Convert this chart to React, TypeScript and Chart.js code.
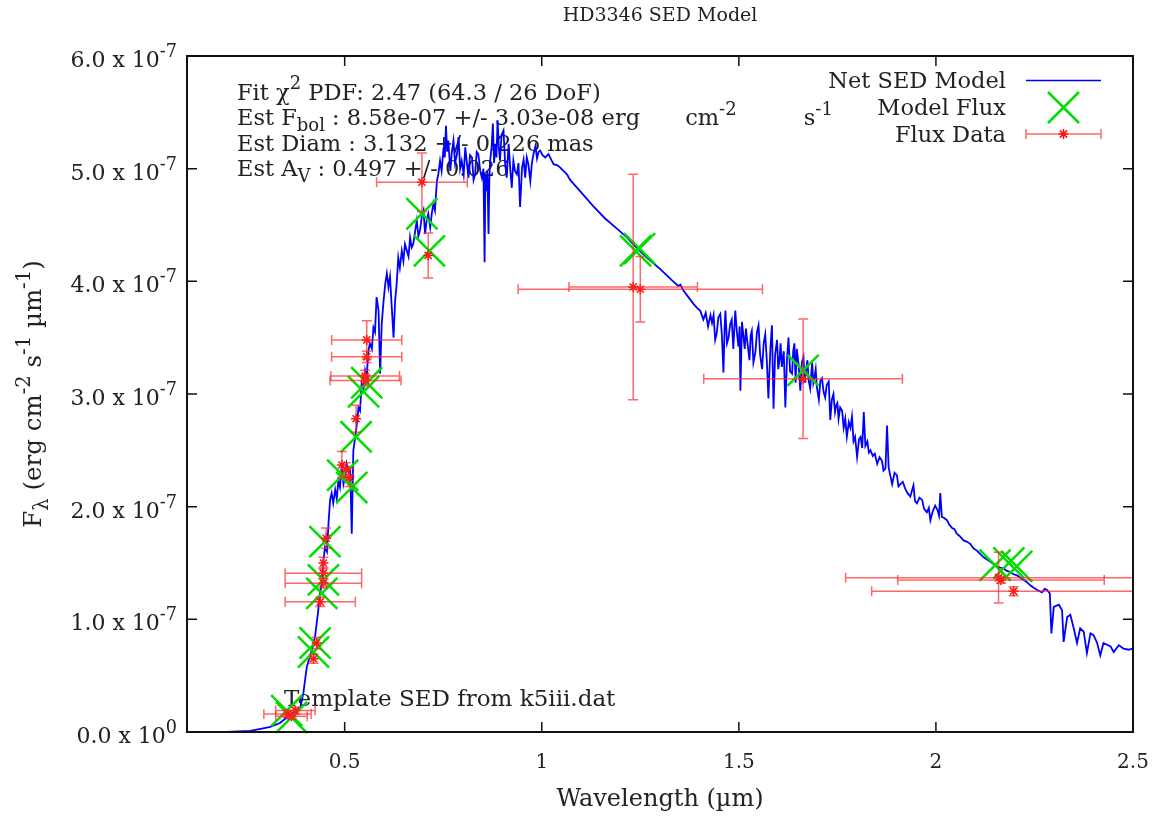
import React, { useEffect, useRef } from 'react';
import { Chart, registerables } from 'chart.js';

Chart.register(...registerables);

// ---- axis ranges & ticks (flux in units of 1e-7 erg cm^-2 s^-1 um^-1) ----
const xMin = 0.1;
const xMax = 2.5;
const yMin = 0;
const yMax = 6;
const xTickValues = [0.5, 1, 1.5, 2, 2.5];
const xTickLabels = ['0.5', '1', '1.5', '2', '2.5'];
const yTickValues = [0, 1, 2, 3, 4, 5, 6];
const yTickMantissa = ['0.0', '1.0', '2.0', '3.0', '4.0', '5.0', '6.0'];
const yTickExponent = ['0', '-7', '-7', '-7', '-7', '-7', '-7'];

// ---- Net SED model spectrum: [wavelength um, flux 1e-7] ----
const sedModel: [number, number][] = [
  [0.10, 0.00], [0.20, 0.00], [0.26, 0.01], [0.29, 0.03], [0.311, 0.045], [0.336, 0.08], [0.361, 0.15],
  [0.387, 0.21], [0.395, 0.34], [0.404, 0.58], [0.412, 0.67], [0.418, 0.74], [0.425, 0.85], [0.433, 1.08],
  [0.436, 1.20], [0.442, 1.32], [0.446, 1.52], [0.450, 1.64], [0.455, 1.60], [0.459, 1.85], [0.463, 2.06],
  [0.467, 2.12], [0.471, 2.03], [0.476, 2.15], [0.480, 2.07], [0.484, 2.23], [0.488, 2.17], [0.493, 2.38],
  [0.497, 2.20], [0.501, 2.26], [0.505, 2.38], [0.510, 2.30], [0.514, 2.32], [0.518, 1.76], [0.522, 2.50],
  [0.527, 2.62], [0.531, 2.74], [0.535, 2.88], [0.539, 2.85], [0.543, 3.09], [0.548, 3.05], [0.552, 3.21],
  [0.556, 3.15], [0.560, 3.38], [0.564, 3.45], [0.569, 3.40], [0.573, 3.59], [0.577, 3.55], [0.581, 3.86],
  [0.586, 3.74], [0.590, 3.18], [0.594, 3.62], [0.598, 3.80], [0.603, 3.98], [0.607, 4.07], [0.611, 3.95],
  [0.615, 4.04], [0.620, 3.74], [0.624, 3.50], [0.628, 3.83], [0.632, 3.98], [0.636, 4.21], [0.640, 4.12],
  [0.645, 4.27], [0.649, 4.18], [0.653, 4.33], [0.658, 4.27], [0.662, 4.22], [0.666, 4.39], [0.670, 4.30],
  [0.674, 4.33], [0.679, 4.45], [0.683, 4.54], [0.687, 4.40], [0.691, 4.45], [0.696, 4.58], [0.700, 4.63],
  [0.704, 4.42], [0.708, 4.54], [0.712, 4.60], [0.717, 4.48], [0.721, 4.60], [0.725, 4.69], [0.729, 4.63],
  [0.734, 4.89], [0.738, 4.96], [0.742, 5.07], [0.746, 4.98], [0.751, 5.19], [0.754, 5.10], [0.757, 5.38],
  [0.760, 5.15], [0.763, 5.25], [0.768, 4.98], [0.772, 5.15], [0.776, 5.25], [0.780, 5.05], [0.785, 5.13],
  [0.789, 5.28], [0.793, 5.00], [0.797, 5.07], [0.802, 4.95], [0.806, 5.19], [0.810, 5.05], [0.814, 4.92],
  [0.818, 5.12], [0.823, 5.10], [0.827, 4.90], [0.831, 4.95], [0.835, 5.15], [0.839, 5.13], [0.844, 4.98],
  [0.848, 4.92], [0.852, 5.00], [0.855, 4.17], [0.857, 4.95], [0.859, 4.80], [0.862, 4.98], [0.865, 4.42],
  [0.867, 4.90], [0.869, 5.07], [0.873, 5.20], [0.876, 5.40], [0.879, 5.05], [0.882, 5.22], [0.885, 5.10],
  [0.888, 5.43], [0.891, 5.20], [0.894, 5.07], [0.898, 5.30], [0.903, 5.34], [0.907, 5.05], [0.911, 4.92],
  [0.916, 5.22], [0.920, 5.00], [0.924, 4.83], [0.928, 5.07], [0.932, 4.98], [0.937, 4.95], [0.941, 5.05],
  [0.945, 4.66], [0.950, 5.01], [0.954, 5.08], [0.958, 4.92], [0.962, 5.10], [0.966, 5.04], [0.971, 4.89],
  [0.975, 5.05], [0.979, 5.13], [0.984, 5.20], [0.988, 5.09], [0.992, 5.15], [0.996, 5.16], [1.002, 5.12],
  [1.009, 5.10], [1.017, 5.13], [1.024, 5.08], [1.030, 5.04], [1.040, 5.03], [1.047, 5.01], [1.055, 4.98],
  [1.064, 4.95], [1.072, 4.90], [1.100, 4.79], [1.130, 4.67], [1.160, 4.56], [1.190, 4.47], [1.216, 4.39],
  [1.240, 4.30], [1.270, 4.20], [1.300, 4.11], [1.330, 4.01], [1.346, 3.96], [1.352, 3.97], [1.359, 3.92],
  [1.372, 3.86], [1.385, 3.80], [1.395, 3.76], [1.402, 3.74], [1.410, 3.66], [1.416, 3.72], [1.422, 3.60],
  [1.428, 3.70], [1.432, 3.63], [1.436, 3.70], [1.440, 3.48], [1.444, 3.54], [1.448, 3.68], [1.453, 3.71],
  [1.457, 3.52], [1.461, 3.19], [1.464, 3.60], [1.466, 3.74], [1.470, 3.45], [1.474, 3.50], [1.478, 3.62],
  [1.482, 3.66], [1.486, 3.40], [1.491, 3.74], [1.495, 3.55], [1.499, 3.42], [1.502, 3.60], [1.504, 3.03],
  [1.508, 3.64], [1.512, 3.50], [1.515, 3.40], [1.518, 3.58], [1.521, 3.48], [1.527, 3.30], [1.530, 3.52],
  [1.533, 3.56], [1.537, 3.28], [1.542, 3.37], [1.546, 3.55], [1.550, 3.61], [1.554, 3.35], [1.559, 3.22],
  [1.563, 3.45], [1.567, 3.53], [1.571, 3.30], [1.575, 2.96], [1.580, 3.40], [1.584, 3.61], [1.588, 2.87],
  [1.592, 3.35], [1.597, 3.48], [1.600, 3.22], [1.603, 3.30], [1.606, 3.45], [1.609, 3.24], [1.614, 3.38],
  [1.618, 2.88], [1.622, 3.30], [1.626, 3.50], [1.630, 3.20], [1.635, 3.18], [1.638, 3.38], [1.641, 3.45],
  [1.644, 3.10], [1.647, 3.40], [1.652, 3.25], [1.656, 3.03], [1.660, 3.28], [1.664, 3.33], [1.667, 3.10],
  [1.670, 3.20], [1.674, 3.30], [1.677, 3.12], [1.681, 3.05], [1.686, 3.28], [1.689, 3.10], [1.692, 3.15],
  [1.695, 3.22], [1.698, 3.06], [1.703, 2.95], [1.707, 3.12], [1.711, 3.14], [1.715, 3.02], [1.719, 2.97],
  [1.723, 3.08], [1.728, 3.11], [1.732, 2.77], [1.736, 2.95], [1.740, 3.00], [1.744, 2.84], [1.747, 2.90],
  [1.750, 2.92], [1.753, 2.78], [1.757, 2.88], [1.762, 2.85], [1.766, 2.70], [1.770, 2.78], [1.774, 2.62],
  [1.779, 2.75], [1.783, 2.70], [1.787, 2.80], [1.791, 2.58], [1.795, 2.62], [1.800, 2.44], [1.805, 2.60],
  [1.809, 2.62], [1.813, 2.52], [1.817, 2.84], [1.821, 2.54], [1.826, 2.58], [1.830, 2.48], [1.834, 2.50],
  [1.840, 2.45], [1.845, 2.47], [1.851, 2.38], [1.857, 2.44], [1.863, 2.41], [1.867, 2.32], [1.872, 2.34],
  [1.876, 2.72], [1.880, 2.35], [1.884, 2.28], [1.889, 2.20], [1.895, 2.30], [1.901, 2.28], [1.905, 2.18],
  [1.910, 2.20], [1.916, 2.22], [1.922, 2.16], [1.928, 2.12], [1.935, 2.09], [1.939, 2.14], [1.943, 2.19],
  [1.947, 2.05], [1.952, 2.03], [1.958, 2.08], [1.965, 2.06], [1.970, 1.98], [1.977, 1.95], [1.982, 1.99],
  [1.986, 1.88], [1.992, 1.96], [1.998, 2.01], [2.004, 1.97], [2.008, 1.92], [2.011, 2.12], [2.015, 1.91],
  [2.021, 1.90], [2.028, 1.88], [2.034, 1.84], [2.041, 1.81], [2.047, 1.80], [2.053, 1.76], [2.060, 1.74],
  [2.065, 1.72], [2.070, 1.70], [2.078, 1.69], [2.087, 1.67], [2.095, 1.63], [2.104, 1.61], [2.112, 1.58],
  [2.121, 1.55], [2.130, 1.53], [2.138, 1.51], [2.146, 1.49], [2.155, 1.47], [2.163, 1.46], [2.172, 1.45],
  [2.180, 1.43], [2.189, 1.42], [2.197, 1.40], [2.206, 1.39], [2.214, 1.37], [2.223, 1.35], [2.231, 1.33],
  [2.240, 1.30], [2.248, 1.28], [2.257, 1.26], [2.263, 1.25], [2.269, 1.24], [2.276, 1.27], [2.282, 1.26],
  [2.289, 1.23], [2.293, 0.875], [2.299, 1.11], [2.312, 1.13], [2.320, 1.08], [2.324, 0.80], [2.333, 1.02],
  [2.341, 1.04], [2.349, 0.93], [2.358, 0.79], [2.366, 0.92], [2.375, 0.89], [2.383, 0.70], [2.392, 0.875],
  [2.400, 0.86], [2.409, 0.79], [2.417, 0.68], [2.425, 0.79], [2.443, 0.76], [2.451, 0.71], [2.464, 0.77],
  [2.476, 0.74], [2.489, 0.73], [2.498, 0.74], [2.500, 0.73],
];

// ---- Model flux (green X) ----
const modelWavelength = [0.353, 0.365, 0.421, 0.425, 0.442, 0.446, 0.450, 0.495, 0.518, 0.529, 0.548, 0.556, 0.696, 0.715, 1.238, 1.248, 1.663, 2.150, 2.185, 2.205];
const modelFlux = [0.19, 0.13, 0.71, 0.79, 1.23, 1.35, 1.69, 2.28, 2.17, 2.62, 3.02, 3.10, 4.60, 4.27, 4.27, 4.29, 3.21, 1.48, 1.50, 1.47];

// ---- Flux data (red, with x/y error bars) ----
const dataWavelength = [0.355, 0.365, 0.375, 0.421, 0.429, 0.438, 0.446, 0.446, 0.446, 0.453, 0.493, 0.503, 0.512, 0.529, 0.552, 0.553, 0.556, 0.556, 0.696, 0.712, 1.232, 1.250, 1.663, 2.159, 2.165, 2.197];
const dataFlux = [0.16, 0.14, 0.19, 0.65, 0.79, 1.155, 1.32, 1.41, 1.50, 1.72, 2.37, 2.33, 2.26, 2.78, 3.16, 3.12, 3.33, 3.48, 4.88, 4.23, 3.95, 3.93, 3.135, 1.37, 1.35, 1.25];
const dataWavelengthErr = [0.06, 0.04, 0.05, 0, 0, 0.089, 0.097, 0.097, 0, 0, 0, 0, 0, 0, 0.087, 0.09, 0.089, 0.089, 0.115, 0, 0.163, 0.31, 0.252, 0.388, 0.262, 0.36];
const dataFluxErr = [0.03, 0.02, 0.03, 0.04, 0.05, 0.04, 0.04, 0.05, 0.05, 0.09, 0.12, 0.06, 0.08, 0.12, 0.05, 0.05, 0.05, 0.17, 0.26, 0.20, 1.0, 0.29, 0.53, 0.225, 0.03, 0.04];

// ---- texts ----
const titleText = 'HD3346 SED Model';
const xAxisTitle = 'Wavelength (\u00b5m)';
// [text, mode (0 normal, 1 superscript, -1 subscript), extra gap before (px)]
type Seg = [string, number, number?];
const yAxisTitle: Seg[] = [['F', 0], ['\u03bb', -1], [' (erg cm', 0], ['-2', 1], [' s', 0], ['-1', 1], [' \u00b5m', 0], ['-1', 1], [')', 0]];
const annotationLines: Seg[][] = [
  [['Fit \u03c7', 0], ['2', 1], [' PDF: 2.47 (64.3 / 26 DoF)', 0]],
  [['Est F', 0], ['bol', -1], [' : 8.58e-07 +/- 3.03e-08 erg', 0], [' cm', 0, 38], ['-2', 1], [' s', 0, 60], ['-1', 1]],
  [['Est Diam : 3.132 +/- 0.226 mas', 0]],
  [['Est A', 0], ['V', -1], [' : 0.497 +/- 0.026', 0]],
];
const templateText = 'Template SED from k5iii.dat';
const legendLabels = ['Net SED Model', 'Model Flux', 'Flux Data'];

// ---- styles ----
const FONT = '"DejaVu Serif", serif';
const TEXT_COLOR = '#222';
const BLUE = '#0000ff';
const GREEN = '#00dd00';
const RED = '#ff1010';
const ERR_COLOR = 'rgba(255,40,40,0.7)';
const SCRIPT = 0.8;

function setFont(ctx: CanvasRenderingContext2D, size: number) {
  ctx.font = `${size}px ${FONT}`;
}

function richWidth(ctx: CanvasRenderingContext2D, segs: Seg[], size: number) {
  let w = 0;
  for (const [t, m, g] of segs) {
    setFont(ctx, m === 0 ? size : size * SCRIPT);
    w += ctx.measureText(t).width + (g || 0);
  }
  return w;
}

function drawRich(ctx: CanvasRenderingContext2D, segs: Seg[], x: number, y: number, size: number, align: 'left' | 'right' | 'center') {
  const w = richWidth(ctx, segs, size);
  let cx = align === 'left' ? x : align === 'right' ? x - w : x - w / 2;
  ctx.textAlign = 'left';
  ctx.textBaseline = 'alphabetic';
  for (const [t, m, g] of segs) {
    cx += g || 0;
    const s = m === 0 ? size : size * SCRIPT;
    setFont(ctx, s);
    const dy = m === 1 ? -size * 0.45 : m === -1 ? size * 0.28 : 0;
    ctx.fillText(t, cx, y + dy);
    cx += ctx.measureText(t).width;
  }
}

function drawX(ctx: CanvasRenderingContext2D, x: number, y: number, h: number) {
  ctx.beginPath();
  ctx.moveTo(x - h, y - h); ctx.lineTo(x + h, y + h);
  ctx.moveTo(x - h, y + h); ctx.lineTo(x + h, y - h);
  ctx.stroke();
}

function drawStar(ctx: CanvasRenderingContext2D, x: number, y: number, r: number) {
  const d = r * 0.72;
  ctx.beginPath();
  ctx.moveTo(x - r, y); ctx.lineTo(x + r, y);
  ctx.moveTo(x, y - r); ctx.lineTo(x, y + r);
  ctx.moveTo(x - d, y - d); ctx.lineTo(x + d, y + d);
  ctx.moveTo(x - d, y + d); ctx.lineTo(x + d, y - d);
  ctx.stroke();
}

const textUnderPlugin = {
  id: 'textUnder',
  beforeDatasetsDraw(chart: any) {
    const ctx: CanvasRenderingContext2D = chart.ctx;
    ctx.save();
    ctx.fillStyle = TEXT_COLOR;
    annotationLines.forEach((segs, i) => {
      drawRich(ctx, segs, 237, 99.5 + i * 25.5, 22.5, 'left');
    });
    drawRich(ctx, [[templateText, 0]], 284, 706, 23, 'left');
    ctx.restore();
  },
};

const errorBarPlugin = {
  id: 'errorBars',
  afterDatasetsDraw(chart: any) {
    const { ctx, chartArea } = chart;
    const xs = chart.scales.x;
    const ys = chart.scales.y;
    ctx.save();
    ctx.beginPath();
    ctx.rect(chartArea.left, chartArea.top, chartArea.right - chartArea.left, chartArea.bottom - chartArea.top);
    ctx.clip();
    ctx.strokeStyle = ERR_COLOR;
    ctx.lineWidth = 1.5;
    const cap = 5;
    for (let i = 0; i < dataWavelength.length; i++) {
      const px = xs.getPixelForValue(dataWavelength[i]);
      const py = ys.getPixelForValue(dataFlux[i]);
      ctx.beginPath();
      if (dataWavelengthErr[i] > 0) {
        const x0 = xs.getPixelForValue(dataWavelength[i] - dataWavelengthErr[i]);
        const x1 = xs.getPixelForValue(dataWavelength[i] + dataWavelengthErr[i]);
        ctx.moveTo(x0, py); ctx.lineTo(x1, py);
        ctx.moveTo(x0, py - cap); ctx.lineTo(x0, py + cap);
        ctx.moveTo(x1, py - cap); ctx.lineTo(x1, py + cap);
      }
      if (dataFluxErr[i] > 0) {
        const y0 = ys.getPixelForValue(dataFlux[i] - dataFluxErr[i]);
        const y1 = ys.getPixelForValue(dataFlux[i] + dataFluxErr[i]);
        ctx.moveTo(px, y0); ctx.lineTo(px, y1);
        ctx.moveTo(px - cap, y0); ctx.lineTo(px + cap, y0);
        ctx.moveTo(px - cap, y1); ctx.lineTo(px + cap, y1);
      }
      ctx.stroke();
    }
    ctx.restore();
  },
};

const framePlugin = {
  id: 'frame',
  afterDraw(chart: any) {
    const { ctx, chartArea } = chart;
    const xs = chart.scales.x;
    const ys = chart.scales.y;
    const { left, right, top, bottom } = chartArea;
    ctx.save();
    // border
    ctx.strokeStyle = '#111';
    ctx.lineWidth = 2;
    ctx.strokeRect(left, top, right - left, bottom - top);
    // ticks
    const tl = 10;
    ctx.lineWidth = 1.5;
    ctx.beginPath();
    xTickValues.forEach((v) => {
      const px = xs.getPixelForValue(v);
      ctx.moveTo(px, bottom); ctx.lineTo(px, bottom - tl);
      ctx.moveTo(px, top); ctx.lineTo(px, top + tl);
    });
    yTickValues.forEach((v) => {
      const py = ys.getPixelForValue(v);
      ctx.moveTo(left, py); ctx.lineTo(left + tl, py);
      ctx.moveTo(right, py); ctx.lineTo(right - tl, py);
    });
    ctx.stroke();
    // tick labels
    ctx.fillStyle = TEXT_COLOR;
    xTickValues.forEach((v, i) => {
      const px = xs.getPixelForValue(v);
      drawRich(ctx, [[xTickLabels[i], 0]], px, 768, 20, 'center');
    });
    yTickValues.forEach((v, i) => {
      const py = ys.getPixelForValue(v);
      drawRich(ctx, [[`${yTickMantissa[i]} x 10`, 0], [yTickExponent[i], 1]], 177, py + 11, 22, 'right');
    });
    // axis titles
    drawRich(ctx, [[xAxisTitle, 0]], (left + right) / 2, 806, 24, 'center');
    ctx.save();
    ctx.translate(41, 394);
    ctx.rotate(-Math.PI / 2);
    drawRich(ctx, yAxisTitle, 0, 0, 24.5, 'center');
    ctx.restore();
    // title
    drawRich(ctx, [[titleText, 0]], (left + right) / 2, 21, 19, 'center');
    // legend
    const lx = 1006;
    const sx0 = 1026;
    const sx1 = 1101;
    const scx = (sx0 + sx1) / 2;
    const baselines = [88, 115, 141.5];
    legendLabels.forEach((lab, i) => {
      drawRich(ctx, [[lab, 0]], lx, baselines[i], 22.5, 'right');
    });
    // blue line sample
    ctx.strokeStyle = BLUE;
    ctx.lineWidth = 1.5;
    ctx.beginPath();
    ctx.moveTo(sx0, baselines[0] - 7.5); ctx.lineTo(sx1, baselines[0] - 7.5);
    ctx.stroke();
    // green X sample
    ctx.strokeStyle = GREEN;
    ctx.lineWidth = 2.5;
    drawX(ctx, scx, baselines[1] - 7.5, 15.5);
    // red errorbar sample
    const ey = baselines[2] - 7.5;
    ctx.strokeStyle = ERR_COLOR;
    ctx.lineWidth = 1.5;
    ctx.beginPath();
    ctx.moveTo(sx0, ey); ctx.lineTo(sx1, ey);
    ctx.moveTo(sx0, ey - 5); ctx.lineTo(sx0, ey + 5);
    ctx.moveTo(sx1, ey - 5); ctx.lineTo(sx1, ey + 5);
    ctx.stroke();
    ctx.strokeStyle = RED;
    ctx.lineWidth = 1.5;
    drawStar(ctx, scx, ey, 5);
    ctx.restore();
  },
};

export default function App() {
  const canvasRef = useRef<HTMLCanvasElement>(null);

  useEffect(() => {
    const canvas = canvasRef.current;
    if (!canvas) return;
    const chart = new Chart(canvas, {
      type: 'scatter',
      data: {
        datasets: [
          {
            label: 'Net SED Model',
            data: sedModel.map(([x, y]) => ({ x, y })),
            showLine: true,
            borderColor: BLUE,
            backgroundColor: BLUE,
            borderWidth: 1.8,
            pointRadius: 0,
            tension: 0,
            order: 3,
          },
          {
            label: 'Model Flux',
            data: modelWavelength.map((x, i) => ({ x, y: modelFlux[i] })),
            pointStyle: 'crossRot',
            pointRadius: 22,
            borderColor: GREEN,
            backgroundColor: GREEN,
            pointBorderWidth: 2.5,
            borderWidth: 2.5,
            clip: false,
            order: 2,
          },
          {
            label: 'Flux Data',
            data: dataWavelength.map((x, i) => ({ x, y: dataFlux[i] })),
            pointStyle: 'star',
            pointRadius: 5,
            borderColor: RED,
            backgroundColor: RED,
            pointBorderWidth: 1.5,
            borderWidth: 1.5,
            clip: false,
            order: 1,
          },
        ],
      } as any,
      options: {
        responsive: false,
        animation: false,
        events: [],
        layout: { padding: { left: 187, right: 26, top: 56, bottom: 86 } },
        plugins: {
          legend: { display: false },
          tooltip: { enabled: false },
          title: { display: false },
        },
        scales: {
          x: {
            type: 'linear',
            min: xMin,
            max: xMax,
            grid: { display: false },
            border: { display: false },
            ticks: { display: false },
            afterFit: (s: any) => { s.height = 0; },
          },
          y: {
            type: 'linear',
            min: yMin,
            max: yMax,
            grid: { display: false },
            border: { display: false },
            ticks: { display: false },
            afterFit: (s: any) => { s.width = 0; },
          },
        },
      } as any,
      plugins: [textUnderPlugin, errorBarPlugin, framePlugin],
    });
    return () => chart.destroy();
  }, []);

  return (
    <div style={{ position: 'absolute', left: 0, top: 0, width: 1159, height: 818, background: '#fff' }}>
      <canvas ref={canvasRef} width={1159} height={818} style={{ display: 'block', width: 1159, height: 818 }} />
    </div>
  );
}
